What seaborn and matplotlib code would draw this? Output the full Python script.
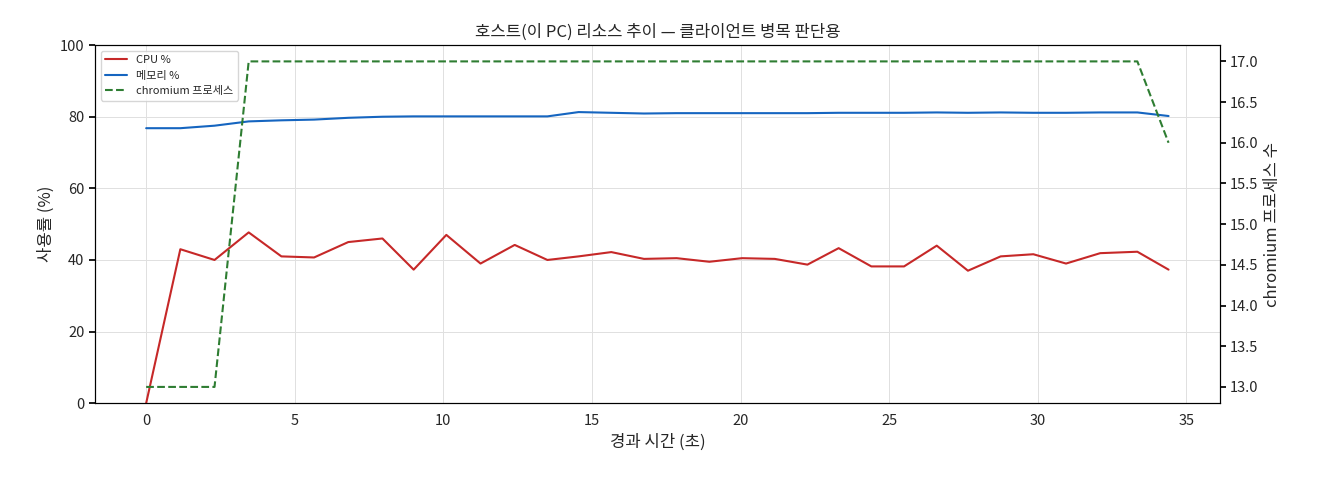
import matplotlib
matplotlib.use("Agg")
import matplotlib.pyplot as plt
import seaborn as sns
import pandas as pd

t = [0,1.15,2.3,3.45,4.55,5.65,6.8,7.95,9.0,10.1,11.25,12.4,13.5,14.55,15.65,16.75,17.85,18.95,20.05,21.15,22.25,23.3,24.4,25.5,26.6,27.65,28.75,29.85,30.95,32.1,33.35,34.4]
cpu = [0,43,40,47.7,41,40.7,45,46,37.3,47,39,44.2,40,41,42.2,40.3,40.5,39.5,40.5,40.3,38.7,43.3,38.2,38.2,44,37,41,41.6,39,41.9,42.3,37.3]
mem = [76.8,76.8,77.5,78.7,79,79.2,79.7,80,80.1,80.1,80.1,80.1,80.1,81.3,81.1,80.9,81,81,81,81,81,81.1,81.1,81.1,81.2,81.1,81.2,81.1,81.1,81.2,81.2,80.2]
chrom = [13,13,13] + [17]*28 + [16]

sns.set_theme(style="white")
plt.rcParams['font.family'] = ['Noto Sans CJK KR', 'DejaVu Sans']
df = pd.DataFrame({"t": t, "cpu": cpu, "mem": mem, "chrom": chrom})

fig, ax = plt.subplots(figsize=(13.2, 4.8), dpi=100)
sns.lineplot(data=df, x="t", y="cpu", ax=ax, color="#c62828", lw=1.5, label="CPU %")
sns.lineplot(data=df, x="t", y="mem", ax=ax, color="#1565c0", lw=1.5, label="메모리 %")
ax.set_ylim(0, 100)
ax.set_xlabel("경과 시간 (초)")
ax.set_ylabel("사용률 (%)")
ax.grid(True, color="#e0e0e0", lw=0.7)
ax.set_title("호스트(이 PC) 리소스 추이 — 클라이언트 병목 판단용", fontsize=12)
ax2 = ax.twinx()
sns.lineplot(data=df, x="t", y="chrom", ax=ax2, color="#2e7d32", lw=1.5, ls="--", label="chromium 프로세스")
ax2.set_ylim(12.8, 17.2)
ax2.set_ylabel("chromium 프로세스 수")
for a in (ax, ax2):
    for s in a.spines.values():
        s.set_color("black")
        s.set_linewidth(0.8)
    a.tick_params(length=4, color="black", labelsize=10.5)
h1, l1 = ax.get_legend_handles_labels()
h2, l2 = ax2.get_legend_handles_labels()
ax2.get_legend().remove()
ax.legend(h1 + h2, l1 + l2, loc="upper left", fontsize=8)
fig.subplots_adjust(left=0.072, right=0.924, top=0.906, bottom=0.16)
fig.savefig("out.png")
